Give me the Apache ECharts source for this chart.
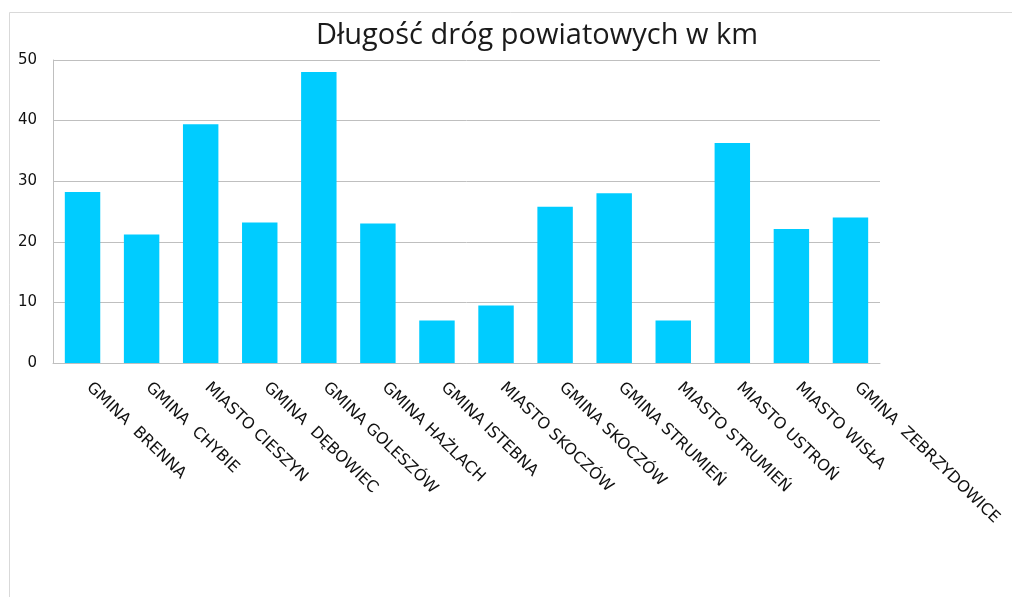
<!DOCTYPE html>
<html>
<head>
<meta charset="utf-8">
<script src="https://cdn.jsdelivr.net/npm/echarts@6/dist/echarts.min.js"></script>
<style>
html,body{margin:0;padding:0;background:#fff;}
#chart{width:1012px;height:597px;}
</style>
</head>
<body>
<div id="chart"></div>
<script>
const titleText = 'Długość dróg powiatowych w km';
const categories = [
  'GMINA  BRENNA', 'GMINA  CHYBIE', 'MIASTO CIESZYN', 'GMINA  DĘBOWIEC',
  'GMINA GOLESZÓW', 'GMINA HAŻLACH', 'GMINA ISTEBNA', 'MIASTO SKOCZÓW',
  'GMINA SKOCZÓW', 'GMINA STRUMIEŃ', 'MIASTO STRUMIEŃ', 'MIASTO USTROŃ',
  'MIASTO WISŁA', 'GMINA  ZEBRZYDOWICE'
];
const values = [28.2, 21.2, 39.4, 23.2, 48.0, 23.0, 7.0, 9.5, 25.8, 28.0, 7.0, 36.3, 22.1, 24.0];
const yTicks = { min: 0, max: 50, interval: 10 };

const chart = echarts.init(document.getElementById('chart'), null, { renderer: 'canvas' });
chart.setOption({
  animation: false,
  backgroundColor: '#ffffff',
  title: {
    text: titleText,
    left: 532,
    top: 16,
    textAlign: 'center',
    textStyle: { fontFamily: 'Open Sans', fontSize: 29, fontWeight: 'normal', color: '#1a1a1a' }
  },
  graphic: [
    { type: 'line', shape: { x1: 9.5, y1: 12.5, x2: 1012, y2: 12.5 }, style: { stroke: '#d9d9d9', lineWidth: 1 } },
    { type: 'line', shape: { x1: 9.5, y1: 12.5, x2: 9.5, y2: 597 }, style: { stroke: '#d9d9d9', lineWidth: 1 } }
  ],
  grid: { left: 53, right: 132, top: 60, bottom: 234, containLabel: false },
  xAxis: {
    type: 'category',
    data: categories,
    axisLine: { show: true, lineStyle: { color: '#bfbfbf', width: 1 } },
    axisTick: { show: false },
    axisLabel: {
      interval: 0,
      rotate: -44,
      margin: 16,
      padding: [0, 0, 0, 9],
      color: '#111',
      fontFamily: 'DejaVu Sans',
      fontSize: 16
    }
  },
  yAxis: {
    type: 'value',
    min: yTicks.min,
    max: yTicks.max,
    interval: yTicks.interval,
    axisLine: { show: true, lineStyle: { color: '#bfbfbf', width: 1 } },
    axisTick: { show: false },
    splitLine: { show: true, lineStyle: { color: '#bfbfbf', width: 1 } },
    axisLabel: { margin: 16, color: '#111', fontFamily: 'DejaVu Sans', fontSize: 15 }
  },
  series: [{
    type: 'bar',
    data: values,
    barCategoryGap: '40%',
    itemStyle: { color: '#00CCFF' }
  }]
});
</script>
</body>
</html>
